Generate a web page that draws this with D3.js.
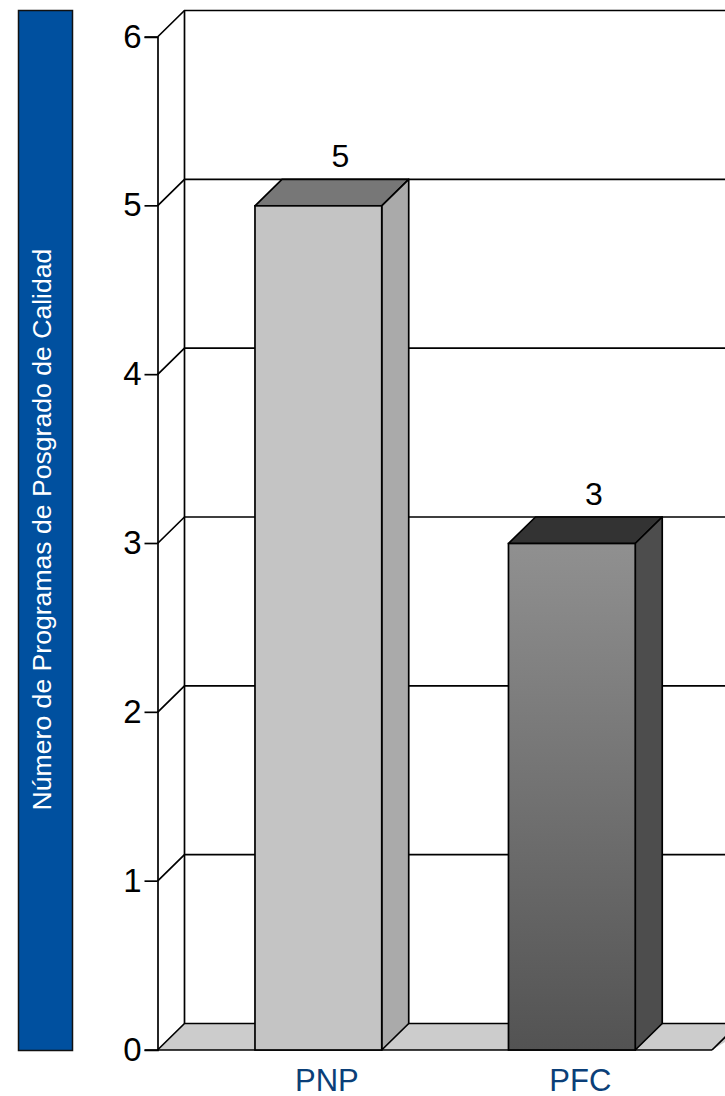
<!DOCTYPE html>
<html><head><meta charset="utf-8">
<script src="https://cdn.jsdelivr.net/npm/d3@7/dist/d3.min.js"></script>
<style>html,body{margin:0;padding:0;background:#fff}svg{display:block}text{font-family:"Liberation Sans",Arial,sans-serif}</style>
</head><body><svg id="c" width="725" height="1096"></svg>
<script>
const categories = ["PNP", "PFC"];
const values = [5, 3];
const yTicks = [0, 1, 2, 3, 4, 5, 6];
const yTitle = "Número de Programas de Posgrado de Calidad";
const frontColors = [["#c4c4c4", "#c4c4c4"], ["#909090", "#535353"]];
const topColors = ["#777777", "#333333"];
const sideColors = ["#aaaaaa", "#4d4d4d"];

const W = 725, H = 1096, dx = 27, dy = -26.5, axisX = 157.5, floorEnd = 712;
const svg = d3.select("#c");
const y = d3.scaleLinear().domain([0, 6]).range([1050, 37]);
const x = d3.scaleBand().domain(categories).range([191.6, 698.6]).paddingInner(0.5).paddingOuter(0.25);

const defs = svg.append("defs");
categories.forEach((c, i) => {
  const g = defs.append("linearGradient").attr("id", "g" + i).attr("x1", 0).attr("y1", 0).attr("x2", 0).attr("y2", 1);
  g.append("stop").attr("offset", 0).attr("stop-color", frontColors[i][0]);
  g.append("stop").attr("offset", 1).attr("stop-color", frontColors[i][1]);
});

const ln = d3.line();
const STROKE = "#000", SW = 1.7;

// title panel
svg.append("rect").attr("x", 18.5).attr("y", 10.5).attr("width", 54).attr("height", 1040)
  .attr("fill", "#00509f").attr("stroke", "#111").attr("stroke-width", 1.5);
svg.append("text").attr("transform", "translate(51,529.5) rotate(-90)").attr("text-anchor", "middle")
  .attr("fill", "#fff").attr("font-size", 26.6).text(yTitle);

// floor
svg.append("path").attr("d", ln([[axisX, y(0)], [axisX + dx, y(0) + dy], [W + 30, y(0) + dy], [floorEnd, y(0)]]) + "Z")
  .attr("fill", "#cccccc").attr("stroke", "none");
svg.append("path").attr("d", ln([[floorEnd, y(0)], [floorEnd + dx, y(0) + dy]]))
  .attr("stroke", STROKE).attr("stroke-width", SW).attr("fill", "none");

// gridlines: side wall diagonal + back wall
svg.append("g").selectAll("path").data(yTicks).join("path")
  .attr("d", d => ln([[axisX, y(d)], [axisX + dx, y(d) + dy], [W, y(d) + dy]]))
  .attr("fill", "none").attr("stroke", STROKE).attr("stroke-width", SW);
// back wall left edge
svg.append("path").attr("d", ln([[axisX + dx, y(0) + dy], [axisX + dx, y(6) + dy]]))
  .attr("stroke", STROKE).attr("stroke-width", SW);

// axis
const axis = d3.axisLeft(y).tickValues(yTicks).tickFormat(d3.format("d")).tickSize(13).tickPadding(3);
const ag = svg.append("g").attr("transform", `translate(${axisX},0)`).call(axis);
ag.selectAll(".tick").attr("transform", d => `translate(0,${y(d)})`);
ag.select(".domain").attr("stroke", STROKE).attr("stroke-width", SW);
ag.selectAll(".tick line").attr("stroke", STROKE).attr("stroke-width", SW);
ag.selectAll(".tick text").attr("font-size", 33).attr("fill", "#000").attr("font-family", '"Liberation Sans",Arial,sans-serif');

// baseline
svg.append("path").attr("d", ln([[axisX, y(0)], [floorEnd, y(0)]])).attr("stroke", STROKE).attr("stroke-width", SW);

// bars
const bars = svg.append("g").selectAll("g").data(categories).join("g");
bars.append("path").attr("d", (c, i) => {
  const l = x(c), r = l + x.bandwidth(), t = y(values[i]);
  return ln([[l, t], [l + dx, t + dy], [r + dx, t + dy], [r, t]]) + "Z";
}).attr("fill", (c, i) => topColors[i]).attr("stroke", STROKE).attr("stroke-width", SW).attr("stroke-linejoin", "round");
bars.append("path").attr("d", (c, i) => {
  const r = x(c) + x.bandwidth(), t = y(values[i]);
  return ln([[r, t], [r + dx, t + dy], [r + dx, y(0) + dy], [r, y(0)]]) + "Z";
}).attr("fill", (c, i) => sideColors[i]).attr("stroke", STROKE).attr("stroke-width", SW).attr("stroke-linejoin", "round");
bars.append("rect").attr("x", c => x(c)).attr("y", (c, i) => y(values[i]))
  .attr("width", x.bandwidth()).attr("height", (c, i) => y(0) - y(values[i]))
  .attr("fill", (c, i) => `url(#g${i})`).attr("stroke", STROKE).attr("stroke-width", SW);

// value labels
bars.append("text").attr("x", c => x(c) + x.bandwidth() / 2 + 22).attr("y", (c, i) => y(values[i]) - 38.5)
  .attr("text-anchor", "middle").attr("font-size", 32).attr("fill", "#000").text((c, i) => values[i]);
// category labels
bars.append("text").attr("x", c => x(c) + x.bandwidth() / 2 + 8.5).attr("y", 1090.5)
  .attr("text-anchor", "middle").attr("font-size", 31).attr("fill", "#0b3f78").text(c => c);
</script></body></html>
